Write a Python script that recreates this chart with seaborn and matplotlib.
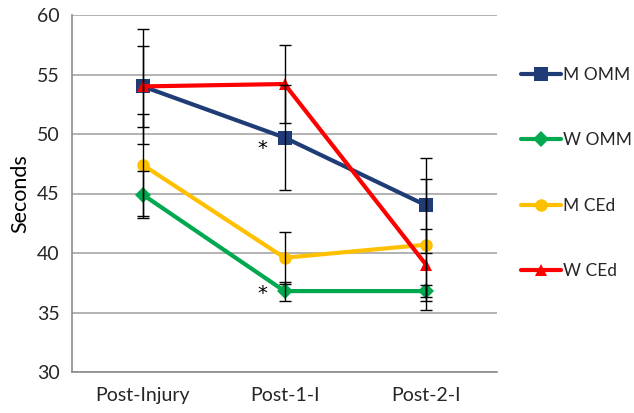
import matplotlib
matplotlib.use("Agg")
import matplotlib.pyplot as plt
import seaborn as sns
import pandas as pd
from matplotlib.lines import Line2D

# Time points and group means (seconds) with error bar half-widths
timepoints = ["Post-Injury", "Post-1-I", "Post-2-I"]
groups = ["M OMM", "W OMM", "M CEd", "W CEd"]
m_omm = [54.0, 49.7, 44.0]
w_omm = [44.9, 36.8, 36.8]
m_ced = [47.4, 39.6, 40.7]
w_ced = [54.0, 54.2, 39.0]
m_omm_err = [4.8, 4.4, 4.0]
w_omm_err = [2.0, 0.8, 0.5]
m_ced_err = [4.3, 2.2, 5.5]
w_ced_err = [3.4, 3.3, 3.0]

# Significance markers: (time point index, height)
stars = [(1, 48.8), (1, 36.6)]

colors = ["#1F3C77", "#00A84F", "#FFC000", "#FF0000"]
markers = ["s", "D", "o", "^"]
msizes = [10, 8, 9, 9]

means = [m_omm, w_omm, m_ced, w_ced]
errs = [m_omm_err, w_omm_err, m_ced_err, w_ced_err]

rows = []
for g, vals, ers in zip(groups, means, errs):
    for i, (t, v, e) in enumerate(zip(timepoints, vals, ers)):
        rows.append({"group": g, "time": t, "pos": i, "seconds": v, "err": e})
df = pd.DataFrame(rows)

sns.set_theme(style="white")
plt.rcParams["font.family"] = ["Lato", "DejaVu Sans"]

fig = plt.figure(figsize=(6.34, 4.13), dpi=100)
ax = fig.add_axes([72 / 634, 1 - 372 / 413, (497 - 72) / 634, (372 - 15) / 413])

for g, c, m, ms in zip(groups, colors, markers, msizes):
    sub = df[df["group"] == g]
    sns.lineplot(data=sub, x="pos", y="seconds", color=c, marker=m,
                 markersize=ms, markeredgewidth=0, linewidth=3.0,
                 ax=ax, legend=False, zorder=3)

# Error bars drawn on top of the series
for g in groups:
    sub = df[df["group"] == g]
    ax.errorbar(sub["pos"], sub["seconds"], yerr=sub["err"], fmt="none",
                ecolor="black", elinewidth=1.0, capsize=4.5, capthick=1.0,
                zorder=4)

for xi, yv in stars:
    ax.text(xi - 0.16, yv, "*", ha="center", va="center", fontsize=14,
            family="DejaVu Sans", color="black", zorder=5)

ax.set_xlim(-0.5, 2.5)
ax.set_ylim(30, 60)
ax.set_yticks(range(30, 61, 5))
ax.set_xticks(range(len(timepoints)))
ax.set_xticklabels(timepoints, fontsize=14, color="#262626")
ax.set_xticks([-0.5, 0.5, 1.5, 2.5], minor=True)
ax.tick_params(axis="x", which="major", length=0, pad=11)
ax.tick_params(axis="x", which="minor", length=5, width=1.2, color="#8C8C8C",
               direction="out")
ax.tick_params(axis="y", length=5, width=1.2, color="#8C8C8C",
               direction="out", labelsize=14, labelcolor="#262626", pad=4)
ax.set_xlabel("")
ax.set_ylabel("Seconds", fontsize=15.5, color="black", labelpad=5)

ax.grid(axis="y", color="#A6A6A6", linewidth=1.2)
ax.grid(axis="x", visible=False)
ax.set_axisbelow(True)
for side in ["top", "right"]:
    ax.spines[side].set_visible(False)
for side in ["left", "bottom"]:
    ax.spines[side].set_color("#8C8C8C")
    ax.spines[side].set_linewidth(1.2)

handles = [Line2D([0], [0], color=c, marker=m, markersize=ms, linewidth=3.0,
                  markeredgewidth=0)
           for c, m, ms in zip(colors, markers, msizes)]
fig.legend(handles, groups, loc="upper left",
           bbox_to_anchor=(514 / 634, 1 - 60 / 413), frameon=False,
           fontsize=12.5, labelspacing=2.85, handlelength=2.3,
           handletextpad=0.15, borderaxespad=0)

fig.savefig("out.png", dpi=100)
